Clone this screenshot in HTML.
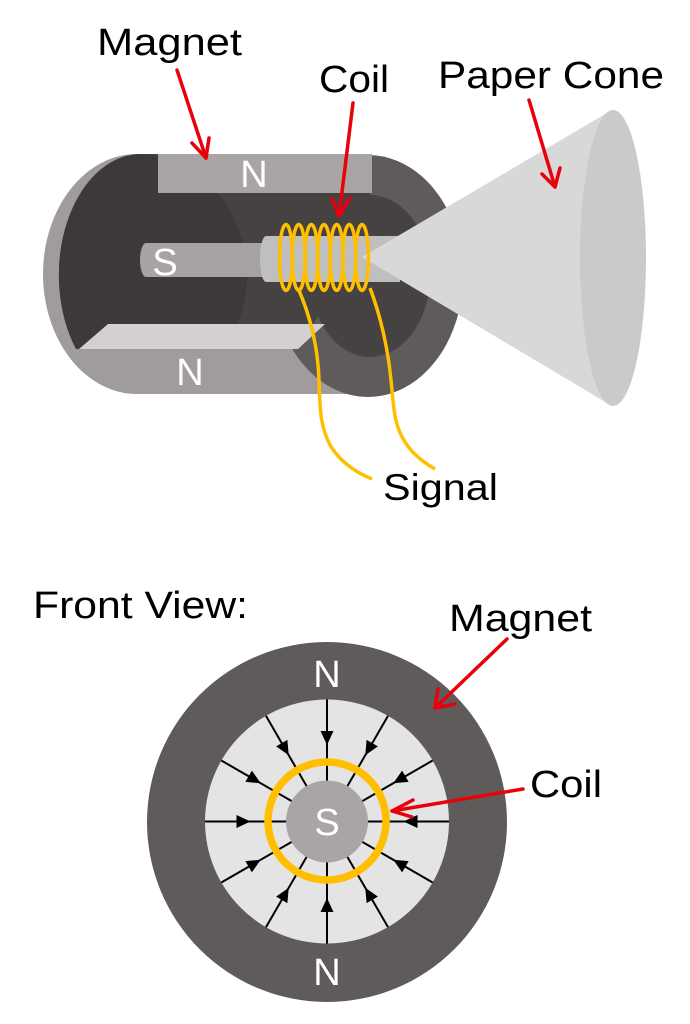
<!DOCTYPE html>
<html>
<head>
<meta charset="utf-8">
<style>
html,body{margin:0;padding:0;background:#fff;}
svg{display:block;}
text{font-family:"Liberation Sans",sans-serif;}
</style>
</head>
<body>
<svg width="690" height="1024" viewBox="0 0 690 1024" xmlns="http://www.w3.org/2000/svg">
<defs>
<clipPath id="intClip">
<path d="M140,154 H370 V195 A60,81 0 0 1 370,357 A60,81 0 0 1 318,316 L298,349 L76,349 A82,121 0 0 1 140,154 Z"/>
</clipPath>
</defs>
<rect width="690" height="1024" fill="#fff"/>

<!-- ===== TOP SPEAKER ===== -->
<!-- outer body (rim / front face) -->
<path d="M137,154 H368 V394 H137 A94,120 0 0 1 137,154 Z" fill="#a09c9b"/>
<!-- right cap -->
<ellipse cx="368" cy="276" rx="95" ry="121" fill="#5f5b5a"/>
<!-- interior recess -->
<path d="M140,154 H370 V195 A60,81 0 0 1 370,357 A60,81 0 0 1 318,316 L298,349 L76,349 A82,121 0 0 1 140,154 Z" fill="#474242"/>
<!-- darker left face -->
<g clip-path="url(#intClip)">
<ellipse cx="137" cy="275" rx="110" ry="121" fill="#3d3939"/>
</g>
<!-- top magnet -->
<rect x="158" y="154" width="214" height="39" fill="#a9a5a4"/>
<text x="254" y="187" font-size="38" fill="#fff" text-anchor="middle">N</text>
<!-- bottom magnet top face -->
<polygon points="108,324 325,324 298,349 79,349" fill="#d3d0cf"/>
<text x="190" y="385" font-size="38" fill="#fff" text-anchor="middle">N</text>
<!-- S rod -->
<path d="M146,243 H268 V277 H146 A6,17 0 0 1 146,243 Z" fill="#a7a3a2"/>
<text x="165" y="275" font-size="38" fill="#fff" text-anchor="middle">S</text>
<!-- coil former -->
<path d="M266,236 H400 V282 H266 A6,23 0 0 1 266,236 Z" fill="#bfbfbf"/>
<!-- cone -->
<polygon points="362,257 612,110 612,406" fill="#d8d8d8"/>
<ellipse cx="613" cy="258" rx="33" ry="148" fill="#cacaca"/>
<!-- coil loops -->
<g fill="none" stroke="#ffbf00" stroke-width="3.5">
<ellipse cx="286" cy="257.5" rx="6.5" ry="33"/>
<ellipse cx="298.7" cy="257.5" rx="6.5" ry="33"/>
<ellipse cx="311.3" cy="257.5" rx="6.5" ry="33"/>
<ellipse cx="324" cy="257.5" rx="6.5" ry="33"/>
<ellipse cx="336.7" cy="257.5" rx="6.5" ry="33"/>
<ellipse cx="349.3" cy="257.5" rx="6.5" ry="33"/>
<ellipse cx="362" cy="257.5" rx="6.5" ry="33"/>
<!-- wires -->
<path d="M298,288 C312,320 318,350 319,380 S320,425 330,445 C340,462 355,472 372,479"/>
<path d="M370,288 C382,320 388,350 391,380 S394,425 405,442 C413,455 425,463 435,469"/>
</g>

<!-- top labels -->
<text x="97" y="55" font-size="38" fill="#000" textLength="145" lengthAdjust="spacingAndGlyphs">Magnet</text>
<text x="319" y="92" font-size="38" fill="#000" textLength="70" lengthAdjust="spacingAndGlyphs">Coil</text>
<text x="438" y="88" font-size="38" fill="#000" textLength="226" lengthAdjust="spacingAndGlyphs">Paper Cone</text>
<text x="383" y="500" font-size="37" fill="#000" textLength="115" lengthAdjust="spacingAndGlyphs">Signal</text>

<!-- red arrows top -->
<g fill="none" stroke="#e8000b" stroke-width="3.5" stroke-linecap="round" stroke-linejoin="round">
<line x1="177" y1="70" x2="206" y2="158"/>
<polyline points="192,143 206,158 209,138"/>
<line x1="353" y1="103" x2="339" y2="216"/>
<polyline points="332,199 339,216 350,198"/>
<line x1="529" y1="100" x2="555" y2="187"/>
<polyline points="542,174 555,187 560,168"/>
</g>

<!-- ===== FRONT VIEW ===== -->
<text x="33" y="618" font-size="38" fill="#000" textLength="215" lengthAdjust="spacingAndGlyphs">Front View:</text>
<text x="449" y="631" font-size="38" fill="#000" textLength="143" lengthAdjust="spacingAndGlyphs">Magnet</text>
<text x="530" y="797" font-size="38" fill="#000" textLength="72" lengthAdjust="spacingAndGlyphs">Coil</text>

<circle cx="327" cy="822" r="180" fill="#5f5b5a"/>
<circle cx="327" cy="821.5" r="122" fill="#e4e4e4"/>

<defs>
<g id="fl">
<line x1="327" y1="699.5" x2="327" y2="781" stroke="#000" stroke-width="2"/>
<polygon points="320.5,731 333.5,731 327,745" fill="#000"/>
</g>
</defs>
<use href="#fl"/>
<use href="#fl" transform="rotate(30 327 821.5)"/>
<use href="#fl" transform="rotate(60 327 821.5)"/>
<use href="#fl" transform="rotate(90 327 821.5)"/>
<use href="#fl" transform="rotate(120 327 821.5)"/>
<use href="#fl" transform="rotate(150 327 821.5)"/>
<use href="#fl" transform="rotate(180 327 821.5)"/>
<use href="#fl" transform="rotate(210 327 821.5)"/>
<use href="#fl" transform="rotate(240 327 821.5)"/>
<use href="#fl" transform="rotate(270 327 821.5)"/>
<use href="#fl" transform="rotate(300 327 821.5)"/>
<use href="#fl" transform="rotate(330 327 821.5)"/>

<circle cx="327" cy="821.5" r="41" fill="#a9a5a4"/>
<circle cx="327" cy="821" r="59" fill="none" stroke="#ffbf00" stroke-width="7.5"/>

<text x="327" y="835" font-size="38" fill="#fff" text-anchor="middle">S</text>
<text x="327" y="687" font-size="38" fill="#fff" text-anchor="middle">N</text>
<text x="327" y="985" font-size="38" fill="#fff" text-anchor="middle">N</text>

<!-- red arrows bottom -->
<g fill="none" stroke="#e8000b" stroke-width="3.5" stroke-linecap="round" stroke-linejoin="round">
<line x1="507" y1="639" x2="435" y2="708"/>
<polyline points="438,689 435,708 455,704"/>
<line x1="523" y1="789" x2="392" y2="811"/>
<polyline points="413,800 392,811 412,817"/>
</g>
</svg>
</body>
</html>
